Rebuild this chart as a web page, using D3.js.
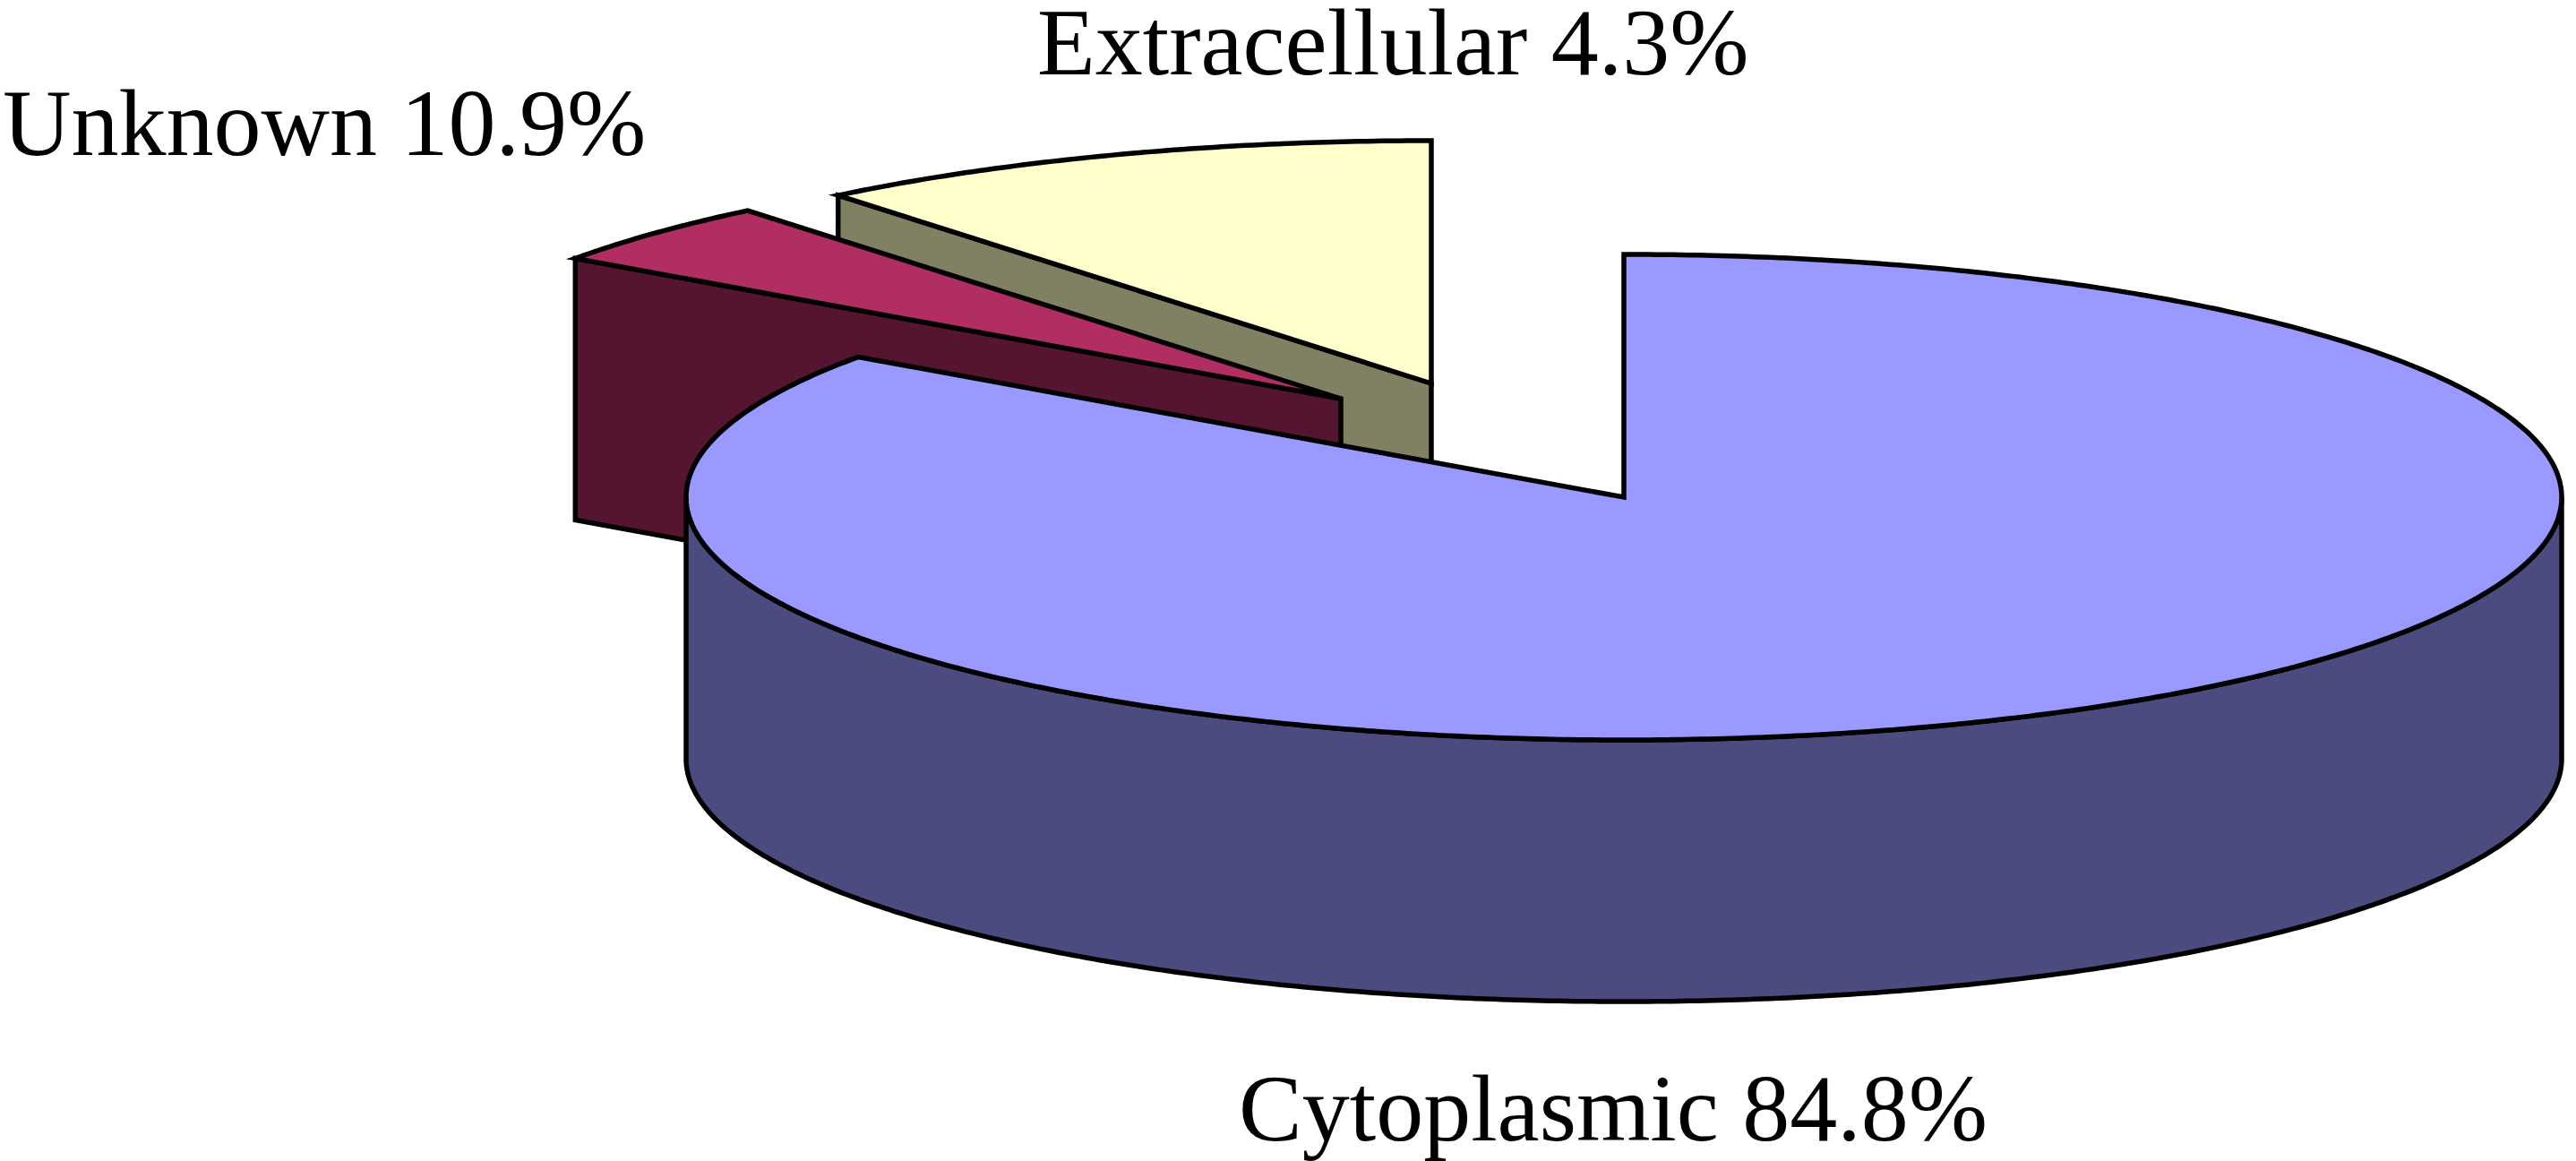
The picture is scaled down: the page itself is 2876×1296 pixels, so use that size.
<!DOCTYPE html>
<html>
<head>
<meta charset="utf-8">
<script src="https://cdn.jsdelivr.net/npm/d3@7"></script>
<style>
  body { margin: 0; background: #fff; }
  .label { font-family: "Liberation Serif", "Times New Roman", serif; font-size: 106px; fill: #000; }
</style>
</head>
<body>
<div class="chart"></div>
<script>
// data
var categories = ["Cytoplasmic", "Extracellular", "Unknown"];
var percents = [84.8, 4.3, 10.9];

var svgWidth = 2876;
var svgHeight = 1296;

// pie geometry (ellipse of the top face + thickness)
var cx = 1813, cy = 555, rx = 1047, ry = 271, depth = 292;

var topColors = ["#9999ff", "#b02e62", "#ffffcc"];
var sideColors = ["#4b4b80", "#551430", "#808062"];
// how far the exploded slices are pulled out (px)
var shifts = [[0, 0], [-316, -110], [-215, -127]];
// where excel put the labels (left, baseline)
var labelPos = [[1383, 1273], [1158, 83], [3, 173]];

var svg = d3.select(".chart")
  .append("svg")
  .attr("width", svgWidth)
  .attr("height", svgHeight);

var xScale = d3.scaleLinear().domain([-1, 1]).range([cx - rx, cx + rx]);
var yScale = d3.scaleLinear().domain([-1, 1]).range([cy - ry, cy + ry]);

function pt(a, r, h, s) {
  return [xScale(r * Math.sin(a)) + s[0], yScale(-r * Math.cos(a)) + s[1] + h];
}

function arcPts(a0, a1, h, s) {
  var n = Math.max(2, Math.ceil(Math.abs(a1 - a0) / (Math.PI / 360)));
  var out = [];
  for (var k = 0; k <= n; k++) out.push(pt(a0 + (a1 - a0) * k / n, 1, h, s));
  return out;
}

var line = d3.line();
function closed(p) { return line(p) + "Z"; }

var arcs = d3.pie().sort(null).value(d => d)(percents);

// draw far slices first
var order = d3.range(arcs.length).sort((a, b) => shifts[a][1] - shifts[b][1]);

order.forEach(function(i) {
  var d = arcs[i], s = shifts[i];
  var a0 = d.startAngle, a1 = d.endAngle;
  var g = svg.append("g").attr("class", "slice " + categories[i]);
  var eps = 1e-6;

  // cut face at start angle
  if (Math.sin(a0) < -eps) {
    g.append("path")
      .attr("d", closed([pt(0, 0, 0, s), pt(a0, 1, 0, s), pt(a0, 1, depth, s), pt(0, 0, depth, s)]))
      .attr("fill", sideColors[i]);
  }
  // cut face at end angle
  if (Math.sin(a1) > eps) {
    g.append("path")
      .attr("d", closed([pt(0, 0, 0, s), pt(a1, 1, 0, s), pt(a1, 1, depth, s), pt(0, 0, depth, s)]))
      .attr("fill", sideColors[i]);
  }
  // outer wall, only the front half shows
  var w0 = Math.max(a0, Math.PI / 2), w1 = Math.min(a1, 3 * Math.PI / 2);
  if (w1 > w0) {
    var top = arcPts(w0, w1, 0, s);
    var bot = arcPts(w1, w0, depth, s);
    g.append("path")
      .attr("d", closed(top.concat(bot)))
      .attr("fill", sideColors[i]);
  }
  // top face
  g.append("path")
    .attr("d", closed([pt(0, 0, 0, s)].concat(arcPts(a0, a1, 0, s))))
    .attr("fill", topColors[i]);

  g.selectAll("path")
    .attr("stroke", "#000")
    .attr("stroke-width", 5.5)
    .attr("stroke-linejoin", "miter");
});

svg.selectAll(".label")
  .data(categories)
  .enter()
  .append("text")
  .attr("class", "label")
  .attr("x", (c, i) => labelPos[i][0])
  .attr("y", (c, i) => labelPos[i][1])
  .text((c, i) => c + " " + percents[i] + "%");
</script>
</body>
</html>
